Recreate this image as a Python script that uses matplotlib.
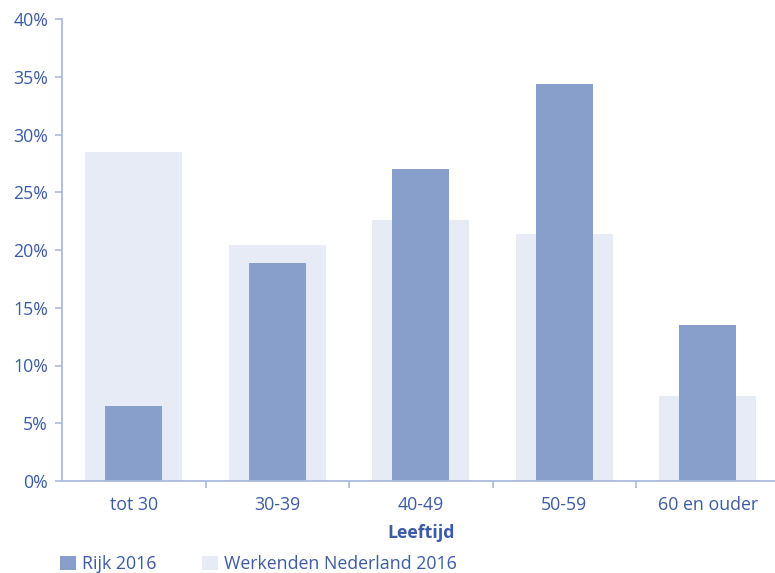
import numpy as np
import matplotlib.pyplot as plt
from matplotlib.patches import Patch

plt.rcParams['font.family'] = ['Open Sans', 'DejaVu Sans']

leeftijd = ['tot 30', '30-39', '40-49', '50-59', '60 en ouder']
rijk_2016 = [6.5, 18.9, 27.0, 34.4, 13.5]
werkenden_nl_2016 = [28.5, 20.4, 22.6, 21.4, 7.4]

txt_col = '#3b5ba5'
axis_col = '#aabbdd'
dark_col = '#889fcc'
light_col = '#e6ebf5'
fs = 12.8

fig = plt.figure(figsize=(7.75, 5.73), dpi=100)
ax = fig.add_axes([62 / 775, 92 / 573, 717.5 / 775, 462 / 573])

x = np.arange(len(leeftijd))
ax.bar(x, werkenden_nl_2016, width=0.675, color=light_col, zorder=1)
ax.bar(x, rijk_2016, width=0.40, color=dark_col, zorder=2)

ax.set_xlim(-0.5, 4.5)
ax.set_ylim(0, 40)
ax.set_yticks(np.arange(0, 41, 5))
ax.set_yticklabels([f'{v}%' for v in range(0, 41, 5)])
ax.set_xticks(x)
ax.set_xticklabels(leeftijd)
ax.set_xticks(np.arange(0.5, 4.0, 1.0), minor=True)

for s in ['top', 'right']:
    ax.spines[s].set_visible(False)
for s in ['left', 'bottom']:
    ax.spines[s].set_color(axis_col)
    ax.spines[s].set_linewidth(1.3)

ax.tick_params(axis='y', colors=axis_col, labelcolor=txt_col, labelsize=fs,
               length=5, width=1.2, pad=5)
ax.tick_params(axis='x', which='major', length=0, labelcolor=txt_col,
               labelsize=fs, pad=11)
ax.tick_params(axis='x', which='minor', colors=axis_col, length=5, width=1.2)

ax.set_xlabel('Leeftijd', color=txt_col, fontsize=fs, fontweight='bold',
              labelpad=7)

handles = [Patch(facecolor=dark_col, label='Rijk 2016'),
           Patch(facecolor=light_col, label='Werkenden Nederland 2016')]
leg = fig.legend(handles=handles, loc='lower left', bbox_to_anchor=(0.057, -0.028),
                 ncol=2, frameon=False, fontsize=fs, handlelength=0.9,
                 handleheight=0.9, handletextpad=0.3, columnspacing=2.6)
for t in leg.get_texts():
    t.set_color(txt_col)

fig.savefig('out.png', dpi=100)
